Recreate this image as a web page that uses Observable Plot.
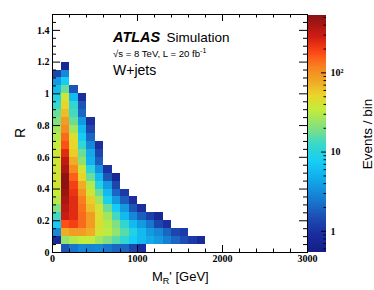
<!DOCTYPE html>
<html><head><meta charset="utf-8">
<script src="https://cdn.jsdelivr.net/npm/d3@7"></script>
<script src="https://cdn.jsdelivr.net/npm/@observablehq/plot@0.6"></script>
<style>
html,body{margin:0;padding:0;background:#fff;}
#chart{position:relative;width:374px;height:290px;}
#chart svg{position:absolute;top:0;}
</style></head><body><div id="chart"></div>
<script>
// ---- data: events per bin, one array per R bin (index = M_R' bin of 100 GeV) ----
const mrBinWidth = 100;   // GeV
const rBinWidth = 0.05;
const R_000 = [null, 1.6, 2.4, 3.0, 2.8, 3.0, 2.4, 2.0, 2.0, 1.3, 0.9];
const R_005 = [0.75, 23, 30, 34, 34, 26, 20, 15, 11, 7.3, 5.6, 4.5, 3.7, 2.7, 2.0, 1.45, 1.1, 0.8];
const R_010 = [3.0, 74, 88, 88, 74, 39, 32, 23, 15, 9, 5.6, 3.7, 3.0, 2.0, 1.3, 1.1];
const R_015 = [7.3, 170, 196, 139, 88, 45, 30, 20, 11, 5.6, 3.7, 2.4, 1.3, 0.9];
const R_020 = [13, 296, 240, 139, 88, 45, 26, 13, 5.6, 3.0, 1.8, 1.2, 0.75];
const R_025 = [20, 340, 240, 130, 64, 39, 17, 7.3, 3.7, 1.6, 0.9];
const R_030 = [30, 390, 240, 120, 55, 26, 8, 3.7, 1.8, 0.9];
const R_035 = [34, 450, 220, 95, 39, 17, 5.6, 2.0, 1.1];
const R_040 = [39, 510, 196, 74, 30, 9, 3.7, 1.3];
const R_045 = [39, 500, 150, 52, 17, 5.6, 1.6, 0.75];
const R_050 = [39, 390, 105, 39, 10, 3.3, 1.0];
const R_055 = [39, 320, 74, 22, 5, 1.8];
const R_060 = [37, 240, 55, 17, 4.5, 1.3];
const R_065 = [34, 170, 50, 11, 3.0, 0.9];
const R_070 = [30, 139, 45, 7.3, 2.0];
const R_075 = [26, 105, 26, 5.6, 1.3];
const R_080 = [20, 88, 17, 3.7, 0.9];
const R_085 = [17, 64, 13, 2.0];
const R_090 = [12, 52, 11, 1.6];
const R_095 = [9, 39, 5.6, 0.9];
const R_100 = [5.6, 17, 1.6];
const R_105 = [3.7, 7.3];
const R_110 = [1.3, 3.0];
const R_115 = [null, 0.75];
const rRows = [R_000, R_005, R_010, R_015, R_020, R_025, R_030, R_035, R_040, R_045, R_050, R_055,
               R_060, R_065, R_070, R_075, R_080, R_085, R_090, R_095, R_100, R_105, R_110, R_115];

// ---- ticks ----
const xMajorTicks = [0, 1000, 2000, 3000];
const xTickLabels = ["0", "1000", "2000", "3000"];
const xMinorTicks = [200, 400, 600, 800, 1200, 1400, 1600, 1800, 2200, 2400, 2600, 2800];
const yMajorTicks = [0, 0.2, 0.4, 0.6, 0.8, 1.0, 1.2, 1.4];
const yTickLabels = ["0", "0.2", "0.4", "0.6", "0.8", "1", "1.2", "1.4"];
const yMinorTicks = [0.05, 0.1, 0.15, 0.25, 0.3, 0.35, 0.45, 0.5, 0.55, 0.65, 0.7, 0.75, 0.85, 0.9, 0.95, 1.05, 1.1, 1.15, 1.25, 1.3, 1.35, 1.45, 1.5];
const zMajorTicks = [1, 10, 100];
const zTickLabels = ["1", "10", "10²"];
const zMinorTicks = [0.6, 0.7, 0.8, 0.9, 2, 3, 4, 5, 6, 7, 8, 9, 20, 30, 40, 50, 60, 70, 80, 90, 200, 300, 400, 500];
const zDomain = [0.54, 530];

// ---- palette (rainbow) ----
const palPos = [0.00, 0.08, 0.16, 0.24, 0.32, 0.38, 0.45, 0.52, 0.60, 0.66, 0.72, 0.78, 0.84, 0.91, 1.00];
const palCol = ["#151d85", "#1a2fa0", "#1d55b8", "#1584d6", "#11b1ec", "#16cdf6", "#37d8cc", "#7ddf85",
                "#c2ec3c", "#e9d62a", "#f0a825", "#f78220", "#ff4a16", "#cf1c12", "#881214"];
const palScale = d3.scaleLinear().domain(palPos).range(palCol).interpolate(d3.interpolateRgb).clamp(true);
const pal = (t) => palScale(t);

const cells = [];
rRows.forEach((row, j) => row.forEach((v, i) => {
  if (v != null) cells.push({x1: i * mrBinWidth, x2: (i + 1) * mrBinWidth,
                             y1: +(j * rBinWidth).toFixed(3), y2: +((j + 1) * rBinWidth).toFixed(3), v});
}));

const W = 374, H = 290, mL = 52, mR = 67, mT = 14, mB = 38;
const fw = W - mL - mR, fh = H - mT - mB;
const serif = "'Liberation Serif', 'Times New Roman', serif";
const sans = "'Liberation Sans', Arial, Helvetica, sans-serif";

const main = Plot.plot({
  width: W, height: H, marginLeft: mL, marginRight: mR, marginTop: mT, marginBottom: mB,
  style: {background: "transparent", overflow: "visible"},
  x: {domain: [0, 3000], axis: null},
  y: {domain: [0, 1.5], axis: null},
  color: {type: "log", domain: zDomain, interpolate: pal},
  marks: [
    Plot.rect(cells, {x1: "x1", x2: "x2", y1: "y1", y2: "y2", fill: "v", inset: 0, shapeRendering: "crispEdges"}),
    Plot.ruleX(xMinorTicks, {x: d => d, insetTop: fh - 3.5, stroke: "black"}),
    Plot.ruleX(xMajorTicks, {x: d => d, insetTop: fh - 7, stroke: "black"}),
    Plot.ruleX(xMinorTicks, {x: d => d, insetBottom: fh - 3.5, stroke: "black"}),
    Plot.ruleX(xMajorTicks, {x: d => d, insetBottom: fh - 7, stroke: "black"}),
    Plot.ruleY(yMinorTicks, {y: d => d, insetRight: fw - 4, stroke: "black"}),
    Plot.ruleY(yMajorTicks, {y: d => d, insetRight: fw - 8, stroke: "black"}),
    Plot.ruleY(yMinorTicks, {y: d => d, insetLeft: fw - 4, stroke: "black"}),
    Plot.ruleY(yMajorTicks, {y: d => d, insetLeft: fw - 8, stroke: "black"}),
    Plot.frame({stroke: "black", strokeWidth: 1}),
    Plot.text(xMajorTicks, {x: d => d, frameAnchor: "bottom", lineAnchor: "top", dy: 2,
      text: (d, i) => xTickLabels[i], fontFamily: serif, fontWeight: "bold", fontSize: 10, fill: "black"}),
    Plot.text(yMajorTicks, {y: d => d, frameAnchor: "left", textAnchor: "end", dx: -3,
      text: (d, i) => yTickLabels[i], fontFamily: serif, fontWeight: "bold", fontSize: 10, fill: "black"})
  ]
});

// colour bar as a second plot
const nStrips = 240;
const cbLevels = d3.range(nStrips + 1).map(i => zDomain[0] * Math.pow(zDomain[1] / zDomain[0], i / nStrips));
const cbStrips = d3.pairs(cbLevels).map(([a, b]) => ({a, b, m: Math.sqrt(a * b)}));
const cbW = 66, barW = 18;
const cb = Plot.plot({
  width: cbW, height: H, marginLeft: 0, marginRight: cbW - barW, marginTop: 15, marginBottom: mB,
  style: {background: "transparent", overflow: "visible"},
  x: {domain: [0, 1], axis: null},
  y: {type: "log", domain: zDomain, axis: null},
  color: {type: "log", domain: zDomain, interpolate: pal},
  marks: [
    Plot.rect(cbStrips, {x1: 0, x2: 1, y1: "a", y2: "b", fill: "m", shapeRendering: "crispEdges"}),
    Plot.ruleY(zMinorTicks, {y: d => d, insetLeft: barW - 2.5, stroke: "black"}),
    Plot.ruleY(zMajorTicks, {y: d => d, insetLeft: barW - 5, stroke: "black"}),
    Plot.text(zMajorTicks, {y: d => d, frameAnchor: "right", textAnchor: "start", dx: 4,
      text: (d, i) => zTickLabels[i], fontFamily: serif, fontWeight: "bold", fontSize: 10, fill: "black"})
  ]
});

const host = document.getElementById("chart");
main.style.left = "0px";
cb.style.left = "308px";
host.appendChild(main);
host.appendChild(cb);

// annotations
const s = d3.select(main);
const g = s.append("g").attr("fill", "black").attr("font-family", sans).attr("text-anchor", "start");
const t1 = g.append("text").attr("x", 113).attr("y", 41.5).attr("font-size", 13.5);
t1.append("tspan").attr("font-weight", "bold").attr("font-style", "italic").attr("font-size", 14.5).text("ATLAS");
t1.append("tspan").attr("x", 166.5).text("Simulation");
const t2 = g.append("text").attr("x", 113).attr("y", 56.5).attr("font-size", 9.6);
t2.append("tspan").text("√s = 8 TeV, L = 20 fb");
t2.append("tspan").attr("font-size", 7).attr("dy", -4).text("-1");
g.append("text").attr("x", 113).attr("y", 74.5).attr("font-size", 14).text("W+jets");
g.append("text").attr("transform", "translate(25,133) rotate(-90)").attr("text-anchor", "middle")
  .attr("font-size", 14).text("R");
const xl = g.append("text").attr("x", 152).attr("y", 280.5).attr("font-size", 13);
xl.append("tspan").text("M");
xl.append("tspan").attr("font-size", 9).attr("dy", 3).text("R");
xl.append("tspan").attr("dy", -3).text("' [GeV]");
d3.select(cb).append("text").attr("transform", "translate(64,134) rotate(-90)").attr("text-anchor", "middle")
  .attr("font-family", sans).attr("font-size", 13.5).attr("fill", "black").text("Events / bin");
</script></body></html>
